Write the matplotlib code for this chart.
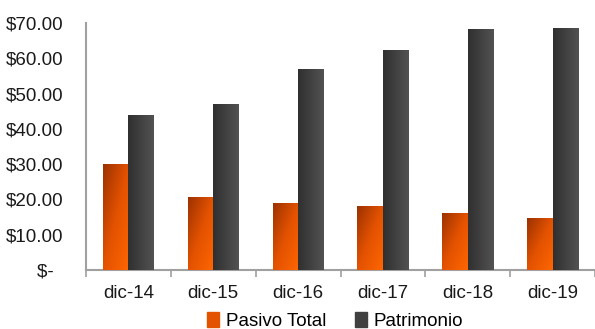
import numpy as np
import matplotlib
matplotlib.use("Agg")
from matplotlib import pyplot as plt
from matplotlib.colors import LinearSegmentedColormap
from matplotlib.patches import Patch

plt.rcParams['font.family'] = ['Liberation Sans', 'DejaVu Sans']

categories = ["dic-14", "dic-15", "dic-16", "dic-17", "dic-18", "dic-19"]
pasivo_total = [30.0, 20.7, 19.0, 18.1, 16.2, 14.7]
patrimonio = [43.9, 47.0, 57.0, 62.3, 68.3, 68.6]
series_names = ["Pasivo Total", "Patrimonio"]
y_ticks = [0, 10, 20, 30, 40, 50, 60, 70]

orange_cmap = LinearSegmentedColormap.from_list("o", ["#9c3200", "#e35200", "#ff6600"])
dark_cmap = LinearSegmentedColormap.from_list("d", ["#303030", "#525252"])


def gradient_fill(ax, bars, cmap, diagonal):
    for bar in bars:
        x0, y0 = bar.get_x(), bar.get_y()
        w, h = bar.get_width(), bar.get_height()
        if diagonal:
            gx, gy = np.meshgrid(np.linspace(0, 1, 50), np.linspace(0, 1, 50))
            grad = (gx + gy) / 2
        else:
            grad = np.tile(np.linspace(0, 1, 50), (50, 1))
        # row 0 is the top of the bar
        im = ax.imshow(grad, cmap=cmap, extent=[x0, x0 + w, y0, y0 + h],
                       aspect='auto', zorder=3, origin='upper',
                       interpolation='bilinear')
        im.set_clip_path(bar)
        bar.set_alpha(0)


fig = plt.figure(figsize=(5.95, 3.29), dpi=100)
ax = fig.add_axes([86 / 595, 1 - 270 / 329, 1 - 86 / 595, (270 - 23) / 329])

x = np.arange(len(categories))
w = 0.3
b1 = ax.bar(x - w / 2, pasivo_total, width=w, color="#e35200", zorder=2)
b2 = ax.bar(x + w / 2, patrimonio, width=w, color="#404040", zorder=2)
gradient_fill(ax, b1, orange_cmap, True)
gradient_fill(ax, b2, dark_cmap, False)

ax.set_xlim(-0.5, len(categories) - 0.5)
ax.set_ylim(0, 70)
ax.set_yticks(y_ticks)
ax.set_yticklabels(["$-  " if v == 0 else f"${v:.2f}" for v in y_ticks])
ax.tick_params(axis='y', length=0, pad=16, labelsize=13.5, colors='#1a1a1a')

ax.set_xticks(x)
ax.set_xticklabels(categories)
ax.set_xticks(np.arange(len(categories) + 1) - 0.5, minor=True)
ax.tick_params(axis='x', which='major', length=0, pad=11, labelsize=13.5, colors='#1a1a1a')
ax.tick_params(axis='x', which='minor', length=5, width=1.2, color='#a0a0a0')

for s in ['top', 'right']:
    ax.spines[s].set_visible(False)
for s in ['left', 'bottom']:
    ax.spines[s].set_color('#a0a0a0')
    ax.spines[s].set_linewidth(1.5)

handles = [Patch(color="#e35200"), Patch(color="#404040")]
fig.legend(handles, series_names, loc='center', bbox_to_anchor=(335 / 595, 1 - 321 / 329),
           ncol=2, frameon=False, fontsize=13.5, handlelength=0.65, handleheight=0.9,
           handletextpad=0.35, columnspacing=1.5, borderpad=0)

fig.savefig("out.png", dpi=100)
